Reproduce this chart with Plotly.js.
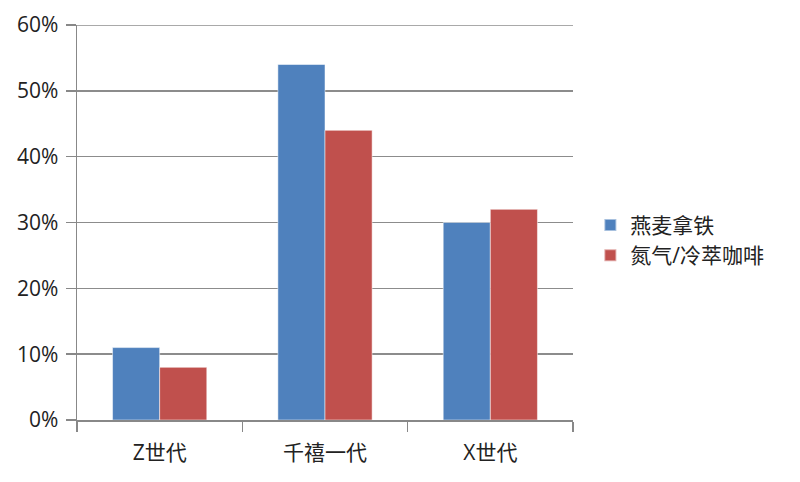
<!DOCTYPE html>
<html>
<head>
<meta charset="utf-8">
<script src="https://cdn.plot.ly/plotly-3.0.1.min.js"></script>
<style>html,body{margin:0;padding:0;background:#fff;}#chart{width:800px;height:482px;}</style>
</head>
<body>
<div id="chart"></div>
<script>
const categories = ["Z世代", "千禧一代", "X世代"];
const seriesNames = ["燕麦拿铁", "氮气/冷萃咖啡"];
const oatLatte = [0.11, 0.54, 0.30];
const nitroCold = [0.08, 0.44, 0.32];
const yTicks = [0, 0.1, 0.2, 0.3, 0.4, 0.5, 0.6];

const font = "'Open Sans', 'Noto Sans CJK SC', sans-serif";
const fsize = 21;
const yMax = yTicks[yTicks.length - 1];
const traces = [
  {type: "bar", x: categories, y: oatLatte, name: seriesNames[0],
   marker: {color: "#4F81BD", line: {color: "rgba(255,255,255,0.5)", width: 1}}},
  {type: "bar", x: categories, y: nitroCold, name: seriesNames[1],
   marker: {color: "#C0504D", line: {color: "rgba(255,255,255,0.5)", width: 1}}}
];
const layout = {
  width: 800, height: 482,
  margin: {l: 77, r: 227, t: 25, b: 62},
  paper_bgcolor: "#fff", plot_bgcolor: "#fff",
  barmode: "group", bargap: 0.43, bargroupgap: 0,
  font: {family: font, size: fsize, color: "#222"},
  xaxis: {
    type: "category", showline: true, linecolor: "#888", linewidth: 1.5,
    ticks: "outside", tickson: "boundaries", ticklen: 10, tickcolor: "#888", tickwidth: 1.5,
    showgrid: false, zeroline: false, ticklabelstandoff: 13,
    tickfont: {size: fsize, family: font, color: "#222"}
  },
  yaxis: {
    range: [0, yMax], tickvals: yTicks, tickformat: ".0%",
    showline: true, linecolor: "#888", linewidth: 1.5,
    ticks: "outside", ticklen: 10, tickcolor: "#888", tickwidth: 1.5,
    showgrid: true, gridcolor: "#8c8c8c", gridwidth: 1.5, zeroline: false,
    ticklabelstandoff: 3,
    tickfont: {size: fsize, family: font, color: "#222"}
  },
  shapes: [{type: "line", xref: "paper", yref: "y", x0: 0, x1: 1, y0: yMax, y1: yMax,
    line: {color: "#8c8c8c", width: 1.5}, layer: "below"}],
  showlegend: true,
  legend: {x: 1.035, y: 0.455, xanchor: "left", yanchor: "middle",
    font: {size: fsize, family: font, color: "#222"}, tracegroupgap: 0, itemsizing: "constant"}
};
Plotly.newPlot("chart", traces, layout, {displayModeBar: false, staticPlot: true});
</script>
</body>
</html>
